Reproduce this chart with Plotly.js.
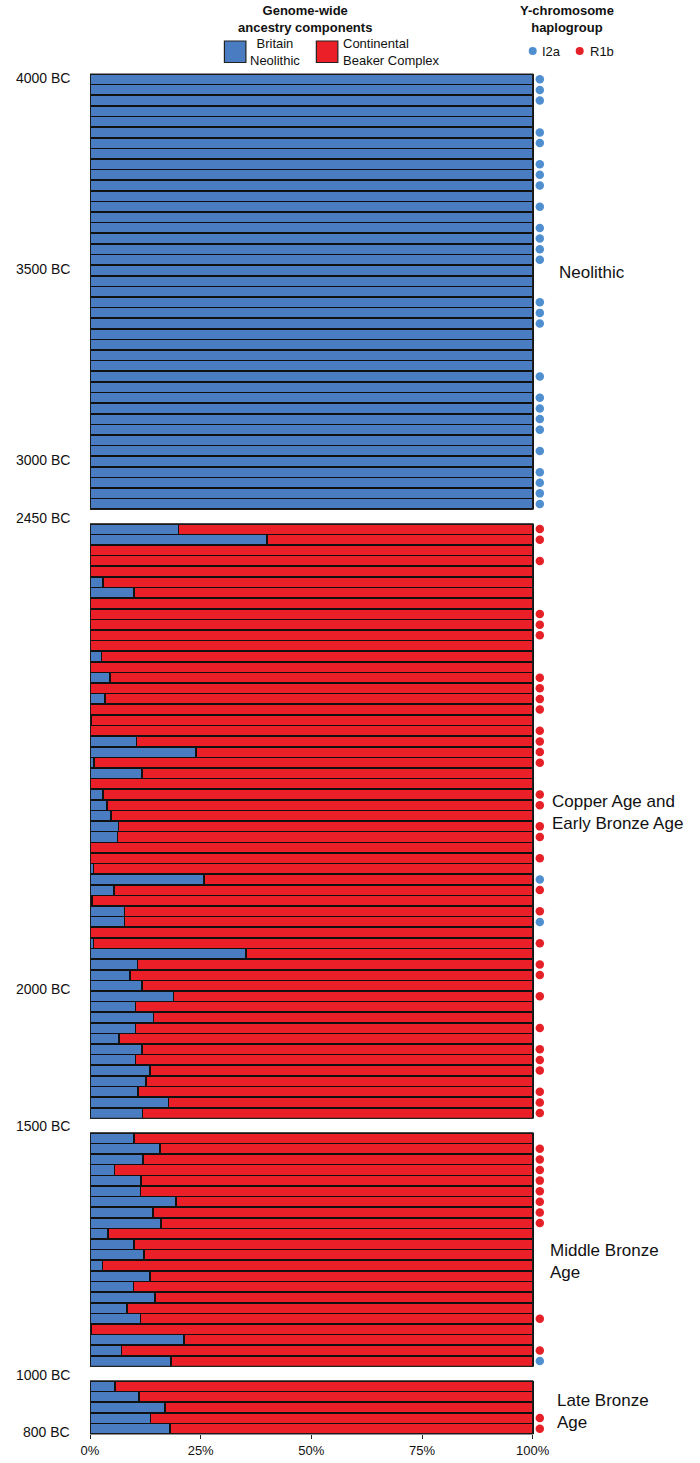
<!DOCTYPE html>
<html>
<head>
<meta charset="utf-8">
<script src="https://cdn.plot.ly/plotly-3.0.1.min.js"></script>
<style>
  html, body { margin: 0; padding: 0; background: #fff; }
  #chart { width: 700px; height: 1463px; }
</style>
</head>
<body>
<div id="chart"></div>
<script>
// Data: % Britain Neolithic ancestry per individual, top to bottom
const periods = ['Neolithic', 'Copper Age and<br>Early Bronze Age', 'Middle Bronze<br>Age', 'Late Bronze<br>Age']

const neolithicBritain = [100, 100, 100, 100, 100, 100, 100, 100, 100, 100,
                          100, 100, 100, 100, 100, 100, 100, 100, 100, 100,
                          100, 100, 100, 100, 100, 100, 100, 100, 100, 100,
                          100, 100, 100, 100, 100, 100, 100, 100, 100, 100, 100]
const copperBritain = [20, 40, 0, 0, 0, 3, 10, 0, 0, 0,
                       0, 0, 2.6, 0, 4.5, 0, 3.4, 0, 0.3, 0,
                       10.5, 24, 0.9, 11.7, 0, 3, 3.9, 4.7, 6.4, 6.2,
                       0, 0, 0.75, 25.7, 5.4, 0.4, 7.8, 7.8, 0, 0.75,
                       35.2, 10.7, 9.1, 11.7, 18.9, 10.3, 14.3, 10.3, 6.6, 11.8,
                       10.3, 13.5, 12.7, 10.9, 17.7, 11.9]
const mbaBritain = [9.9, 15.8, 12.0, 5.5, 11.5, 11.4, 19.4, 14.2, 16.0, 4.0,
                    9.9, 12.2, 2.8, 13.6, 9.8, 14.7, 8.4, 11.4, 0.3, 21.2,
                    7.1, 18.3]
const lbaBritain = [5.6, 11.1, 17.0, 13.7, 18.1]

// Y-chromosome haplogroup per individual ('' = not determined)
const neolithicY = ['I2a', 'I2a', 'I2a', '', '', 'I2a', 'I2a', '', 'I2a', 'I2a',
                    'I2a', '', 'I2a', '', 'I2a', 'I2a', 'I2a', 'I2a', '', '',
                    '', 'I2a', 'I2a', 'I2a', '', '', '', '', 'I2a', '',
                    'I2a', 'I2a', 'I2a', 'I2a', '', 'I2a', '', 'I2a', 'I2a', 'I2a', 'I2a']
const copperY = ['R1b', 'R1b', '', 'R1b', '', '', '', '', 'R1b', 'R1b',
                 'R1b', '', '', '', 'R1b', 'R1b', 'R1b', 'R1b', '', 'R1b',
                 'R1b', 'R1b', 'R1b', '', '', 'R1b', 'R1b', '', 'R1b', 'R1b',
                 '', 'R1b', '', 'I2a', 'R1b', '', 'R1b', 'I2a', '', 'R1b',
                 '', 'R1b', 'R1b', '', 'R1b', '', '', 'R1b', '', 'R1b',
                 'R1b', 'R1b', '', 'R1b', 'R1b', 'R1b']
const mbaY = ['', 'R1b', 'R1b', 'R1b', 'R1b', 'R1b', 'R1b', 'R1b', 'R1b', '',
              '', '', '', '', '', '', '', 'R1b', '', '',
              'R1b', 'I2a']
const lbaY = ['', '', '', 'R1b', 'R1b']

// Date labels on the left: text and the row (within a panel) they sit beside
const dateLabels = ['4000 BC', '3500 BC', '3000 BC', '2450 BC', '2000 BC', '1500 BC', '1000 BC', '800 BC']
const datePanels = [0, 0, 0, 1, 1, 2, 3, 3]
const dateRows = [-0.1, 17.9, 35.9, -1.0, 43.3, -1.15, -1.07, 4.3]

const tickVals = [0, 0.25, 0.5, 0.75, 1]
const tickText = ['0%', '25%', '50%', '75%', '100%']

const britainByPanel = [neolithicBritain, copperBritain, mbaBritain, lbaBritain]
const yByPanel = [neolithicY, copperY, mbaY, lbaY]

// Styling
const FONT = 'Liberation Sans, Arial, Helvetica, sans-serif'
const BLUE = '#4a7cc1'
const RED = '#ea1f28'
const DOT_BLUE = '#4f8fd0'
const DOT_RED = '#e62027'
const FRAME = '#222'
const X_MAX = 1.03       // room right of 100% for the haplogroup dots
const DOT_X = 1.016
const hapColor = {I2a: DOT_BLUE, R1b: DOT_RED}

const W = 700, H = 1463
const LEFT = 90, RIGHT100 = 533     // pixel x of 0% and 100%
const plotW = (RIGHT100 - LEFT) * X_MAX
const M = {l: LEFT, r: W - LEFT - plotW, t: 74, b: 29}
const plotH = H - M.t - M.b
const GAP_PX = 14.5

// pixel -> paper helpers (for labels and the hand-made legend)
let px = x => (x - M.l) / plotW
let py = y => (H - M.b - y) / plotH

// panel domains proportional to the number of rows
let nRows = britainByPanel.map(a => a.length)
let totalRows = nRows.reduce((a, b) => a + b, 0)
let rowPx = (plotH - GAP_PX * (nRows.length - 1)) / totalRows
let domains = []
let yTop = plotH
for (let n of nRows) {
  let yBottom = yTop - n * rowPx
  domains.push([Math.max(0, yBottom / plotH), Math.min(1, yTop / plotH)])
  yTop = yBottom - GAP_PX
}
// paper y of a (possibly fractional) row inside panel p
let rowY = (p, r) => domains[p][1] - (r + 0.5) * rowPx / plotH

var data = []
var layout = {
  width: W, height: H,
  margin: M,
  barmode: 'stack',
  bargap: 0,
  showlegend: false,
  paper_bgcolor: '#fff',
  plot_bgcolor: '#fff',
  font: {family: FONT, size: 13, color: '#111'},
  annotations: [],
  shapes: []
}

for (let [i, britain] of britainByPanel.entries()) {
  let s = i == 0 ? '' : String(i + 1)
  let rows = britain.map((v, k) => k)
  let hap = yByPanel[i]

  data.push({
    type: 'bar', orientation: 'h',
    x: britain.map(v => v / 100), y: rows,
    xaxis: 'x' + s, yaxis: 'y' + s,
    marker: {color: BLUE, line: {color: '#111', width: 1.6}},
    hoverinfo: 'skip'
  })
  data.push({
    type: 'bar', orientation: 'h',
    x: britain.map(v => 1 - v / 100), y: rows,
    xaxis: 'x' + s, yaxis: 'y' + s,
    marker: {color: RED, line: {color: '#111', width: 1.6}},
    hoverinfo: 'skip'
  })

  let dotRows = rows.filter(k => hap[k])
  data.push({
    type: 'scatter', mode: 'markers',
    x: dotRows.map(k => DOT_X), y: dotRows,
    xaxis: 'x' + s, yaxis: 'y' + s,
    marker: {size: 8.5, color: dotRows.map(k => hapColor[hap[k]])},
    hoverinfo: 'skip'
  })

  let last = i == britainByPanel.length - 1
  layout['xaxis' + s] = {
    domain: [0, 1], anchor: 'y' + s, range: [0, X_MAX],
    showline: false, showgrid: false, zeroline: false,
    tickvals: tickVals, ticktext: tickText,
    showticklabels: last, ticks: last ? 'outside' : '',
    ticklen: 4, tickcolor: FRAME, tickwidth: 1,
    tickfont: {family: FONT, size: 13, color: '#111'},
    fixedrange: true
  }
  layout['yaxis' + s] = {
    domain: domains[i], anchor: 'x' + s,
    range: [britain.length - 0.5, -0.5],
    showline: false, showgrid: false, zeroline: false,
    showticklabels: false, ticks: '',
    fixedrange: true
  }

  // panel frame from 0% to 100%
  layout.shapes.push({
    type: 'rect', xref: 'x' + s, yref: 'y' + s + ' domain',
    x0: 0, x1: 1, y0: 0, y1: 1,
    line: {color: FRAME, width: 1.2}, fillcolor: 'rgba(0,0,0,0)'
  })
}

// Date labels
for (let [j, label] of dateLabels.entries()) {
  layout.annotations.push({
    text: label, xref: 'paper', x: px(72), xanchor: 'right',
    yref: 'paper', y: rowY(datePanels[j], dateRows[j]), yanchor: 'middle',
    showarrow: false, font: {family: FONT, size: 14, color: '#111'}
  })
}

// Period labels on the right
const periodRows = [18.2, 26.7, 11.6, 2.4]
const periodX = [557, 550, 548, 555]
for (let [i, name] of periods.entries()) {
  layout.annotations.push({
    text: name, xref: 'paper', x: px(periodX[i]), xanchor: 'left', align: 'left',
    yref: 'paper', y: rowY(i, periodRows[i]), yanchor: 'middle',
    showarrow: false, font: {family: FONT, size: 17, color: '#111'}
  })
}

// Legend (drawn by hand to match the figure)
function note(text, x, y, anchor, opts) {
  layout.annotations.push(Object.assign({
    text: text, xref: 'paper', yref: 'paper', x: px(x), y: py(y),
    xanchor: anchor, yanchor: 'middle', showarrow: false,
    font: {family: FONT, size: 13, color: '#111'}
  }, opts || {}))
}
note('<b>Genome-wide<br>ancestry components</b>', 305, 19, 'center', {align: 'center'})
note('Britain<br>Neolithic', 275.5, 52.5, 'center', {align: 'center'})
note('Continental<br>Beaker Complex', 341, 52.5, 'left', {align: 'left'})
note('<b>Y-chromosome<br>haplogroup</b>', 567, 19, 'center', {align: 'center'})
note('I2a', 540, 51, 'left')
note('R1b', 588, 51, 'left')

function box(x0, y0, x1, y1, color, type) {
  layout.shapes.push({
    type: type || 'rect', xref: 'paper', yref: 'paper',
    x0: px(x0), x1: px(x1), y0: py(y1), y1: py(y0),
    fillcolor: color, line: {color: type == 'circle' ? color : FRAME, width: type == 'circle' ? 0 : 1.2}
  })
}
box(224.5, 41, 246, 62.5, BLUE)
box(316.5, 41, 338, 62.5, RED)
box(529, 47, 537, 55, DOT_BLUE, 'circle')
box(576, 47, 584, 55, DOT_RED, 'circle')

Plotly.newPlot('chart', data, layout, {displayModeBar: false, staticPlot: true})
</script>
</body>
</html>
